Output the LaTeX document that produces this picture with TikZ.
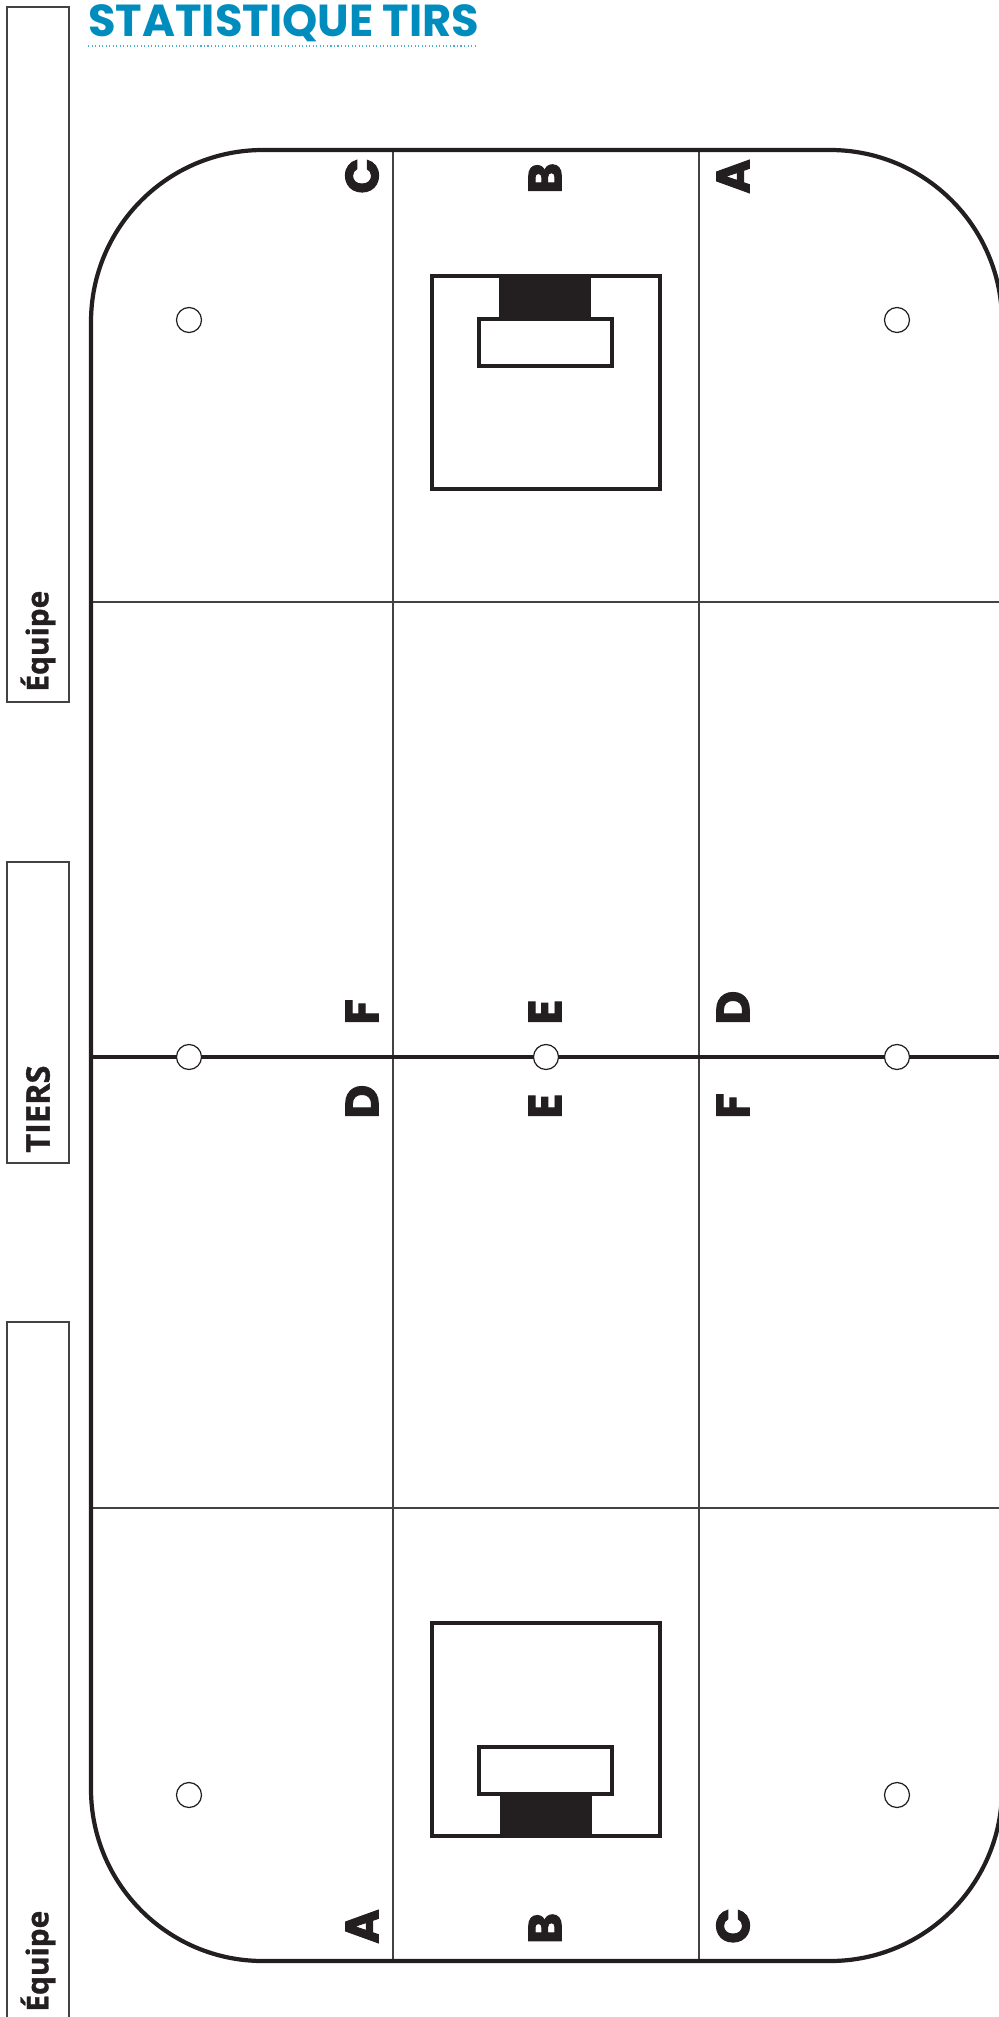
\documentclass[tikz,border=0pt]{standalone}
\usepackage{fontspec}
\setmainfont{Poppins}
\newfontfamily\heavyfont{Poppins}[BoldFeatures={FakeBold=2}]
\newfontfamily\tagfont{Open Sans}[BoldFeatures={FakeBold=1.2}]
\usetikzlibrary{positioning}
\definecolor{TIRSblue}{HTML}{008DBE}
\definecolor{ink}{HTML}{231F20}
\tikzset{
  rink/.style={draw=ink,line width=2.4pt,rounded corners=3.44cm},
  zone/.style={draw=ink!85,line width=0.7pt},
  redline/.style={draw=ink,line width=2.4pt},
  crease/.style={draw=ink,line width=1.9pt},
  net/.style={fill=ink},
  dot/.style={draw=ink,line width=0.7pt,fill=white},
  lbl/.style={rotate=90,anchor=west,inner sep=0,text=ink,font=\heavyfont\fontsize{26.5}{26.5}\selectfont\bfseries},
  tagbox/.style={draw=ink!85,line width=0.9pt},
  tag/.style={rotate=90,anchor=west,inner sep=0,text=ink,font=\tagfont\fontsize{17}{17}\selectfont\bfseries}
}
\begin{document}
\begin{tikzpicture}[x=0.02cm,y=-0.02cm]
\useasboundingbox (0,0) rectangle (999,2017);

% title
\node[anchor=base west,inner sep=0,text=TIRSblue,font=\fontsize{25.5}{25.5}\selectfont\bfseries] (title) at (88,37) {STATISTIQUE TIRS};
\draw[TIRSblue!70,line width=0.6pt,dash pattern=on 0.6pt off 1.4pt] (88,46) -- (478,46);

% side tags
\draw[tagbox] (7,7) rectangle (69,702);
\node[tag] (team1) at (38,692) {Équipe};
\draw[tagbox] (7,862) rectangle (69,1163);
\node[tag,font=\tagfont\fontsize{18.5}{18.5}\selectfont\bfseries] (period) at (38,1153) {TIERS};
\draw[tagbox] (7,1322) rectangle (69,2030);
\node[tag] (team2) at (38,2012) {Équipe};

% zones
\foreach \x in {393,699} \draw[zone] (\x,150) -- (\x,1961);
\foreach \y in {602,1508} \draw[zone] (91,\y) -- (1002,\y);
\draw[redline] (91,1057) -- (1002,1057);

% goals
\draw[crease] (432,276) rectangle (660,489);
\fill[net] (499,276) rectangle (591,320);
\draw[crease,fill=white] (479,319) rectangle (612,366);
\draw[crease] (432,1623) rectangle (660,1836);
\fill[net] (500,1794) rectangle (592,1836);
\draw[crease,fill=white] (479,1747) rectangle (612,1794);

% faceoff dots
\foreach \x/\y in {189/320,897/320,189/1057,546/1057,897/1057,189/1795,897/1795}
  \draw[dot] (\x,\y) circle (12.5);

% boards
\draw[rink] (91,150) rectangle (1002,1961);

% zone letters
\foreach \x/\t [count=\i] in {362/C,545/B,733/A}
  \node[lbl] (top\i) at (\x,194) {\t};
\foreach \x/\t [count=\i] in {362/F,545/E,733/D}
  \node[lbl] (midA\i) at (\x,1025) {\t};
\foreach \x/\t [count=\i] in {362/D,545/E,733/F}
  \node[lbl] (midB\i) at (\x,1119) {\t};
\foreach \x/\t [count=\i] in {362/A,545/B,733/C}
  \node[lbl] (bot\i) at (\x,1944) {\t};
\end{tikzpicture}
\end{document}
